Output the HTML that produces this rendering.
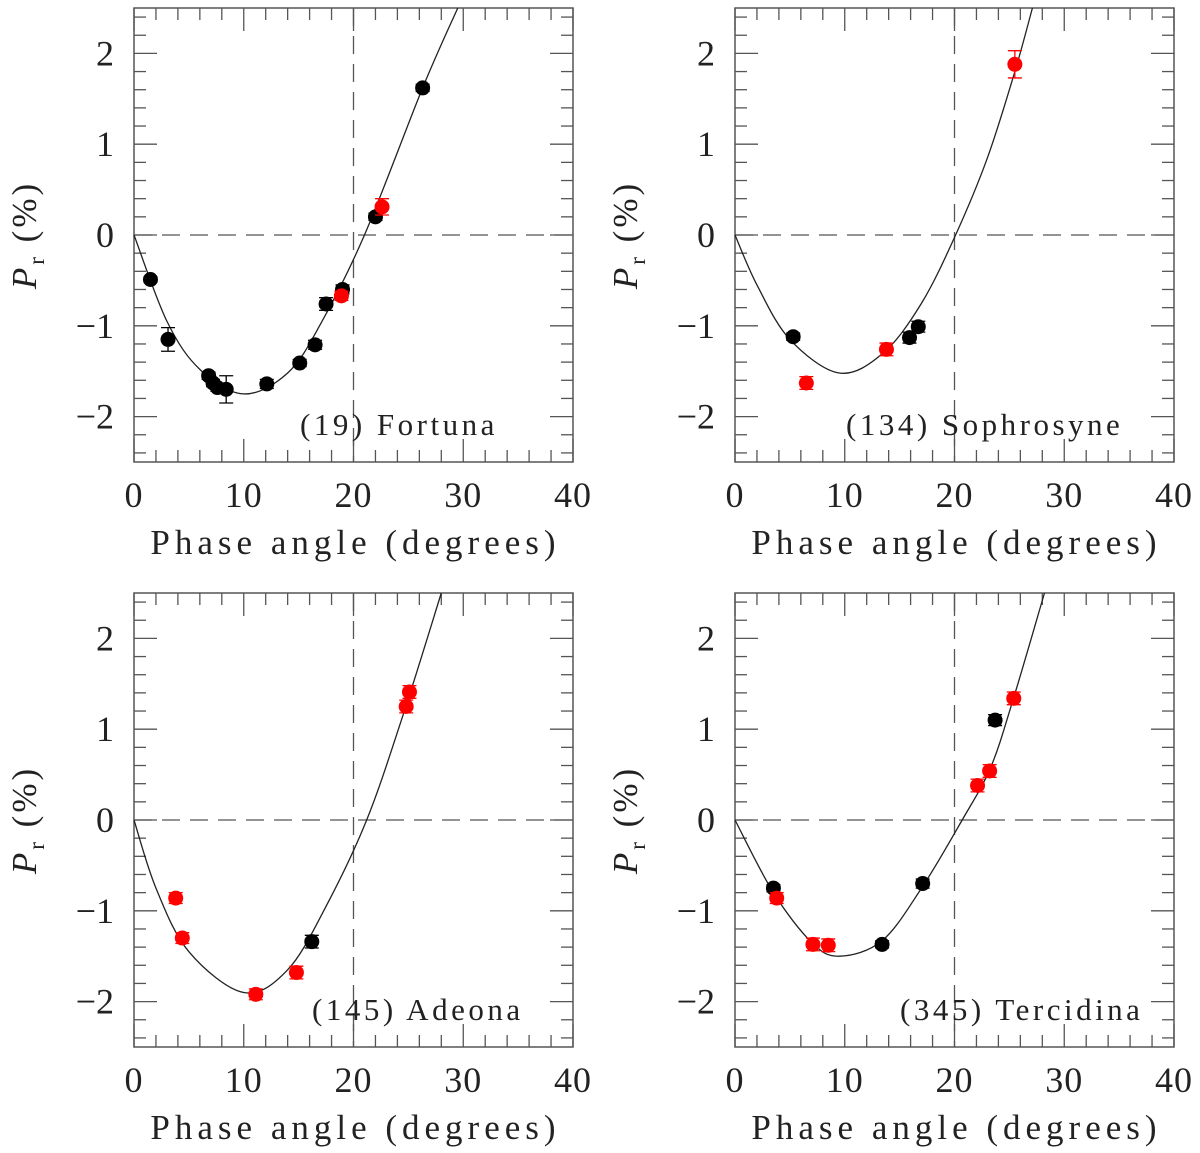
<!DOCTYPE html>
<html><head><meta charset="utf-8">
<style>
html,body{margin:0;padding:0;background:#fff;}
svg{display:block;}
text{font-family:"Liberation Serif",serif;fill:#222;}
</style></head>
<body>
<svg id="fig" width="1200" height="1153" viewBox="0 0 1200 1153" xmlns="http://www.w3.org/2000/svg"></svg>
<script>
// Panel titles
const titles = ["(19) Fortuna", "(134) Sophrosyne", "(145) Adeona", "(345) Tercidina"];
// Axis ticks
const xTicks = [0, 10, 20, 30, 40];
const yTicks = [-2, -1, 0, 1, 2];
// Black observation series [phase, Pr, err]
const black1X = [1.5, 3.1, 6.8, 7.2, 7.6, 8.4, 12.1, 15.1, 16.5, 17.5, 19.0, 22.0, 26.3];
const black1Y = [-0.49, -1.15, -1.55, -1.63, -1.68, -1.70, -1.64, -1.41, -1.21, -0.76, -0.60, 0.20, 1.62];
const black1E = [0.03, 0.13, 0.04, 0.04, 0.04, 0.15, 0.05, 0.04, 0.05, 0.07, 0.05, 0.04, 0.04];
const red1X = [18.9, 22.6];
const red1Y = [-0.67, 0.31];
const red1E = [0.05, 0.09];
const black2X = [5.3, 15.9, 16.7];
const black2Y = [-1.12, -1.13, -1.01];
const black2E = [0.04, 0.06, 0.06];
const red2X = [6.5, 13.8, 25.5];
const red2Y = [-1.63, -1.26, 1.88];
const red2E = [0.07, 0.07, 0.15];
const black3X = [16.2];
const black3Y = [-1.34];
const black3E = [0.07];
const red3X = [3.8, 4.4, 11.1, 14.8, 24.8, 25.1];
const red3Y = [-0.86, -1.30, -1.92, -1.68, 1.25, 1.41];
const red3E = [0.06, 0.06, 0.06, 0.07, 0.07, 0.07];
const black4X = [3.5, 13.4, 17.1, 23.7];
const black4Y = [-0.75, -1.37, -0.70, 1.10];
const black4E = [0.04, 0.04, 0.05, 0.06];
const red4X = [3.8, 7.1, 8.5, 22.1, 23.2, 25.4];
const red4Y = [-0.86, -1.37, -1.38, 0.38, 0.54, 1.34];
const red4E = [0.06, 0.07, 0.07, 0.07, 0.07, 0.07];
// Fitted phase curves
const curve1X = [0, 3, 6, 10, 14, 17, 21, 26.3, 29.5];
const curve1Y = [0, -0.95, -1.48, -1.75, -1.52, -0.98, 0, 1.62, 2.5];
const curve2X = [0, 2, 5, 9.5, 13.5, 17, 20.1, 23, 25.5, 27.1];
const curve2Y = [0, -0.55, -1.15, -1.52, -1.30, -0.75, 0, 0.85, 1.80, 2.5];
const curve3X = [0, 2, 5, 10, 14, 17.5, 21.2, 24.5, 28];
const curve3Y = [0, -0.75, -1.45, -1.90, -1.65, -0.95, 0, 1.15, 2.5];
const curve4X = [0, 3.5, 7, 9.5, 13.4, 17, 20.7, 23.3, 25.4, 28.2];
const curve4Y = [0, -0.80, -1.35, -1.50, -1.33, -0.75, 0, 0.58, 1.35, 2.5];

const panels = [
 {ox:134, oy:8, title:titles[0], tx:300, bx:black1X, by:black1Y, be:black1E, rx:red1X, ry:red1Y, re:red1E, cx:curve1X, cy:curve1Y},
 {ox:735, oy:8, title:titles[1], tx:846, bx:black2X, by:black2Y, be:black2E, rx:red2X, ry:red2Y, re:red2E, cx:curve2X, cy:curve2Y},
 {ox:134, oy:593, title:titles[2], tx:312, bx:black3X, by:black3Y, be:black3E, rx:red3X, ry:red3Y, re:red3E, cx:curve3X, cy:curve3Y},
 {ox:735, oy:593, title:titles[3], tx:900, bx:black4X, by:black4Y, be:black4E, rx:red4X, ry:red4Y, re:red4E, cx:curve4X, cy:curve4Y}
];
const W=439, H=454, NS="http://www.w3.org/2000/svg";
const svg=document.getElementById('fig');
function mk(tag, attrs, parent){const e=document.createElementNS(NS,tag);for(const k in attrs)e.setAttribute(k,attrs[k]);(parent||svg).appendChild(e);return e;}

panels.forEach((p,pi)=>{
  const g=mk('g',{});
  
  
  const sx=v=>p.ox+v/40*W;
  const sy=v=>p.oy+(2.5-v)/5*H;
  const fr=mk('rect',{x:p.ox,y:p.oy,width:W,height:H,fill:'none',stroke:'#555','stroke-width':1.5},g);
  
  
  for(let v=0;v<=40;v+=2){
    const len=(v%10===0)?23:12;
    mk('line',{x1:sx(v),x2:sx(v),y1:p.oy+H,y2:p.oy+H-len,stroke:'#555','stroke-width':1.3},g);
    mk('line',{x1:sx(v),x2:sx(v),y1:p.oy,y2:p.oy+len,stroke:'#555','stroke-width':1.3},g);
  }
  for(let i=-12;i<=12;i++){
    const v=i/5;const len=(i%5===0)?23:12;
    mk('line',{x1:p.ox,x2:p.ox+len,y1:sy(v),y2:sy(v),stroke:'#555','stroke-width':1.3},g);
    mk('line',{x1:p.ox+W,x2:p.ox+W-len,y1:sy(v),y2:sy(v),stroke:'#555','stroke-width':1.3},g);
  }
  xTicks.forEach(v=>{
    const t=mk('text',{x:sx(v),y:p.oy+H+45,'font-size':36,'text-anchor':'middle','letter-spacing':1},g);
    t.textContent=v;
    
    
  });
  yTicks.forEach(v=>{
    const t=mk('text',{x:p.ox-20,y:sy(v)+12,'font-size':36,'text-anchor':'end'},g);
    t.textContent=(v<0?'\u2212':'')+Math.abs(v);
    
    
  });
  const hz=mk('line',{x1:p.ox,x2:p.ox+W,y1:sy(0),y2:sy(0),stroke:'#555','stroke-width':1.3,'stroke-dasharray':'18 10'},g);
  
  
  const vt=mk('line',{x1:sx(20),x2:sx(20),y1:p.oy,y2:p.oy+H,stroke:'#555','stroke-width':1.3,'stroke-dasharray':'18 10'},g);
  
  
  const px=p.cx.map(sx), py=p.cy.map(sy);
  let d='M'+px[0]+','+py[0];
  for(let i=0;i<px.length-1;i++){
    const x0=px[Math.max(i-1,0)],y0=py[Math.max(i-1,0)],x1=px[i],y1=py[i],x2=px[i+1],y2=py[i+1],x3=px[Math.min(i+2,px.length-1)],y3=py[Math.min(i+2,px.length-1)];
    d+=' C'+(x1+(x2-x0)/6)+','+(y1+(y2-y0)/6)+' '+(x2-(x3-x1)/6)+','+(y2-(y3-y1)/6)+' '+x2+','+y2;
  }
  const cv=mk('path',{d:d,fill:'none',stroke:'#222','stroke-width':1.3},g);
  
  
  function pts(xs,ys,es,col,name){
    xs.forEach((x,i)=>{
      const X=sx(x),Y=sy(ys[i]),e=es[i]/5*H;
      const eb=mk('path',{d:`M${X},${Y-e}V${Y+e}M${X-7},${Y-e}H${X+7}M${X-7},${Y+e}H${X+7}`,stroke:col,'stroke-width':1.3,fill:'none'},g);
      
      
      const c=mk('circle',{cx:X,cy:Y,r:7.5,fill:col},g);
      
      
    });
  }
  pts(p.bx,p.by,p.be,'#000','black-point');
  pts(p.rx,p.ry,p.re,'#f00','red-point');
  const tt=mk('text',{x:p.tx,y:p.oy+427,'font-size':31,'letter-spacing':3.5},g);
  tt.textContent=p.title;
  
  
  const xl=mk('text',{x:p.ox+W/2+2,y:p.oy+H+92,'font-size':35,'text-anchor':'middle','letter-spacing':5},g);
  xl.textContent='Phase angle (degrees)';
  
  
  const yl=mk('text',{transform:`translate(${p.ox-98},${sy(0)}) rotate(-90)`,'font-size':35,'text-anchor':'middle','letter-spacing':3},g);
  yl.innerHTML='<tspan font-style="italic">P</tspan><tspan font-size="23" dy="8">r</tspan><tspan dy="-8"> (%)</tspan>';
  
  
});
</script>
</body></html>
